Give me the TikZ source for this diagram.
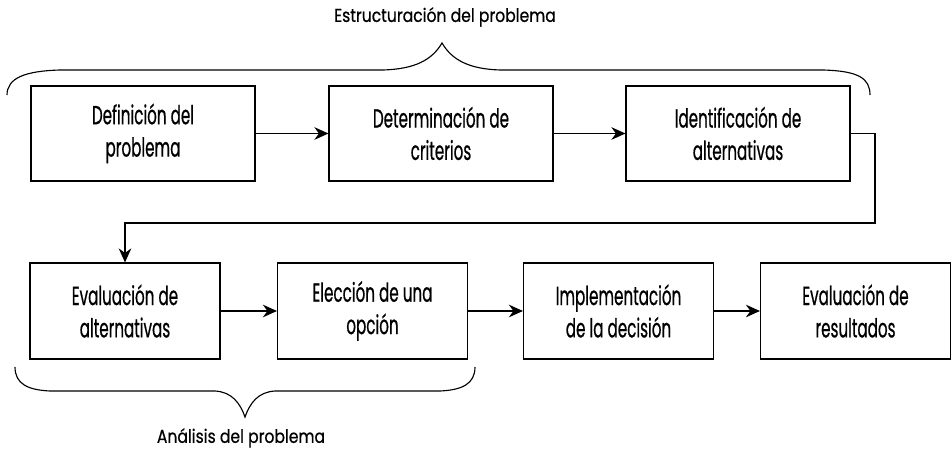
\documentclass[tikz,border=0pt]{standalone}
\usepackage{fontspec}
\setmainfont{Poppins}[FakeStretch=0.58, FakeBold=0.6]
\newfontfamily\etiqueta{Poppins}[FakeStretch=0.84, FakeBold=0.6]
\usetikzlibrary{arrows.meta,calc,positioning}

\begin{document}
\begin{tikzpicture}[x=0.025cm, y=-0.025cm]
		\tikzstyle{every node}=[font=\fontsize{18.6}{23}\selectfont]
		\tikzstyle{caja}=[draw, line width=0.8pt, align=center, inner sep=0pt, minimum width=5.6cm, minimum height=2.375cm]
		\tikzstyle{cajab}=[caja, minimum width=4.75cm, minimum height=2.4cm]
		\tikzstyle{flecha}=[line width=0.8pt, -{Stealth[length=10pt, width=9pt]}]
		\tikzstyle{llave}=[line width=0.8pt]
		\tikzstyle{rotulo}=[font=\etiqueta\fontsize{13.2}{16}\selectfont]
		\useasboundingbox (0,0) rectangle (951,452);
		\node [caja] (definicion) at (143,133.5) {Definición del\\problema};
		\node [caja] (criterios) at (441,133.5) {Determinación de\\criterios};
		\node [caja] (identificacion) at (738,133.5) {Identificación de\\alternativas};
		\node [cajab] (evaluacion) at (125,311) {Evaluación de\\alternativas};
		\node [cajab] (eleccion) at (372.5,311) {Elección de una\\opción};
		\node [cajab] (implementacion) at (618.5,311) {Implementación\\de la decisión};
		\node [cajab] (resultados) at (855.5,311) {Evaluación de\\resultados};
		\coordinate (vuelta) at (875,223);
		\draw [flecha] (definicion) -- (criterios);
		\draw [flecha] (criterios) -- (identificacion);
		\draw [flecha] (identificacion.east) -| (vuelta) -| (evaluacion.north);
		\draw [flecha] (evaluacion) -- (eleccion);
		\draw [flecha] (eleccion) -- (implementacion);
		\draw [flecha] (implementacion) -- (resultados);
		% llaves
		\draw [llave] (7,95) .. controls (7,78) and (25,71) .. (60,70) -- (383,70) .. controls (415,69) and (432,60) .. (442,43) .. controls (452,60) and (469,69) .. (500,70) -- (823,70) .. controls (858,71) and (870,78) .. (870,95);
		\draw [llave] (15,367) .. controls (15,384) and (28,390) .. (50,391) -- (215,391) .. controls (232,392) and (240,403) .. (245,417) .. controls (250,403) and (258,392) .. (275,391) -- (440,391) .. controls (462,390) and (475,384) .. (475,367);
		\node [rotulo] (estructuracion) at (445,17) {Estructuración del problema};
		\node [rotulo] (analisis) at (241,438) {Análisis del problema};
	\end{tikzpicture}
\end{document}
